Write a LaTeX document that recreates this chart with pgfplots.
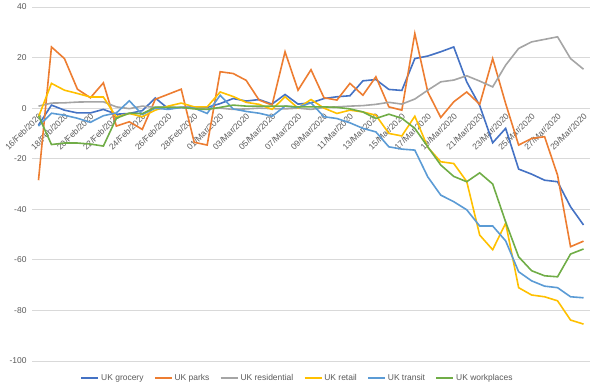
\documentclass[border=0pt]{standalone}
\usepackage{pgfplots}
\pgfplotsset{compat=1.18}
\usepackage{pgfplotstable}
\usepackage{fontspec}
\setmainfont{Liberation Sans}
\definecolor{cgro}{HTML}{4472C4}
\definecolor{cpar}{HTML}{ED7D31}
\definecolor{cres}{HTML}{A5A5A5}
\definecolor{cret}{HTML}{FFC000}
\definecolor{ctra}{HTML}{5B9BD5}
\definecolor{cwor}{HTML}{70AD47}
\definecolor{tickgray}{HTML}{595959}
\definecolor{gridgray}{HTML}{D9D9D9}
\pgfplotstableread{
i gro par res ret tra wor
0 -6.7 -28.5 0.8 -3.5 -7.1 -3.0
1 1.2 24.2 2.0 9.8 -2.0 -14.4
2 -0.8 19.6 2.1 7.1 -2.8 -13.8
3 -1.9 7.5 2.4 5.8 -4.0 -13.8
4 -1.9 4.1 2.5 4.4 -5.6 -14.2
5 -0.5 10.0 2.5 4.4 -3.0 -15.0
6 -2.4 -7.1 0.5 -3.5 -1.9 -4.0
7 -2.1 -5.4 -0.2 -2.1 2.9 -2.0
8 -1.0 -8.4 0.8 -3.4 -2.5 -2.2
9 4.0 3.5 0.3 -0.8 0.0 0.4
10 -0.2 5.5 0.5 0.8 -0.5 0.3
11 0.3 7.5 0.2 2.0 0.3 0.3
12 0.5 -13.5 0.0 0.5 0.0 -0.3
13 0.3 -14.6 -0.2 0.5 -2.1 -0.5
14 1.8 14.4 0.0 6.4 5.1 0.3
15 3.8 13.7 -0.5 4.6 -0.3 1.2
16 2.8 11.0 -0.3 2.3 -1.3 0.8
17 3.4 3.2 0.0 1.5 -2.0 0.8
18 1.6 1.2 -0.2 -0.5 -3.2 0.8
19 5.4 22.3 -0.3 4.5 0.8 0.8
20 1.6 7.1 0.0 0.0 0.3 0.5
21 2.1 15.2 -0.5 3.4 2.1 0.5
22 3.8 4.1 0.3 0.0 -3.4 0.5
23 4.5 3.2 0.5 -2.1 -4.1 0.3
24 4.9 9.8 0.8 -0.8 -5.8 -0.3
25 10.8 5.1 1.0 -1.5 -8.0 -1.5
26 11.3 12.4 1.5 -2.8 -9.4 -4.1
27 7.4 0.5 2.3 -10.0 -15.3 -2.4
28 7.0 -0.8 1.6 -11.0 -16.2 -4.0
29 19.6 29.5 3.6 -3.2 -16.6 -8.0
30 20.6 6.4 7.1 -15.5 -27.2 -15.3
31 22.3 -3.7 10.4 -21.2 -34.4 -22.5
32 24.2 2.5 11.1 -21.9 -37.0 -27.0
33 10.4 6.4 12.8 -29.0 -40.2 -29.1
34 1.0 1.5 10.7 -50.2 -46.6 -25.6
35 -13.7 19.6 8.4 -56.0 -46.6 -30.0
36 -8.0 1.8 17.0 -45.5 -52.5 -45.0
37 -24.1 -14.6 23.6 -71.0 -64.7 -58.8
38 -26.1 -12.0 26.2 -73.9 -68.3 -64.3
39 -28.5 -11.3 27.2 -74.6 -70.4 -66.3
40 -29.1 -26.5 28.2 -76.2 -71.0 -66.7
41 -39.0 -54.8 19.6 -83.8 -74.6 -57.7
42 -46.2 -52.6 15.4 -85.4 -75.0 -55.7
}\data
\begin{document}
\begin{tikzpicture}
\useasboundingbox (0,0) rectangle (595bp,391bp);
\begin{axis}[
  at={(32bp,30bp)}, anchor=south west,
  scale only axis, width=558bp, height=354bp,
  xmin=-0.5, xmax=42.5, ymin=-100, ymax=40,
  axis x line=middle, axis y line=left,
  axis line style={draw=none},
  hide obscured x ticks=false, hide obscured y ticks=false,
  major tick length=0pt,
  ytick={-100,-80,...,40},
  xtick={0,2,...,42},
  xticklabels={16/Feb/2020,18/Feb/2020,20/Feb/2020,22/Feb/2020,24/Feb/2020,26/Feb/2020,28/Feb/2020,01/Mar/2020,03/Mar/2020,05/Mar/2020,07/Mar/2020,09/Mar/2020,11/Mar/2020,13/Mar/2020,15/Mar/2020,17/Mar/2020,19/Mar/2020,21/Mar/2020,23/Mar/2020,25/Mar/2020,27/Mar/2020,29/Mar/2020},
  ymajorgrids, grid style={draw=gridgray, line width=0.75bp},
  /pgf/number format/assume math mode=true,
  yticklabel style={font=\fontsize{8.5}{10}\selectfont, text=tickgray, xshift=-2bp},
  xticklabel style={font=\fontsize{8.5}{10}\selectfont, text=tickgray, rotate=45, anchor=east, yshift=-6bp, xshift=0bp},
  every axis plot/.append style={line width=1.6bp, mark=none},
  legend style={at={(0.476,-0.048)}, anchor=center, legend columns=6, draw=none, fill=none,
    font=\fontsize{8.5}{10}\selectfont, text=tickgray,
    /tikz/every even column/.append style={column sep=8.5bp}},
  legend image code/.code={\draw[#1] (0bp,0bp) -- (17bp,0bp);},
]
\addplot[cgro] table[x=i,y=gro]{\data};
\addplot[cpar] table[x=i,y=par]{\data};
\addplot[cres] table[x=i,y=res]{\data};
\addplot[cret] table[x=i,y=ret]{\data};
\addplot[ctra] table[x=i,y=tra]{\data};
\addplot[cwor] table[x=i,y=wor]{\data};
\legend{UK grocery,UK parks,UK residential,UK retail,UK transit,UK workplaces}
\end{axis}
\end{tikzpicture}
\end{document}
